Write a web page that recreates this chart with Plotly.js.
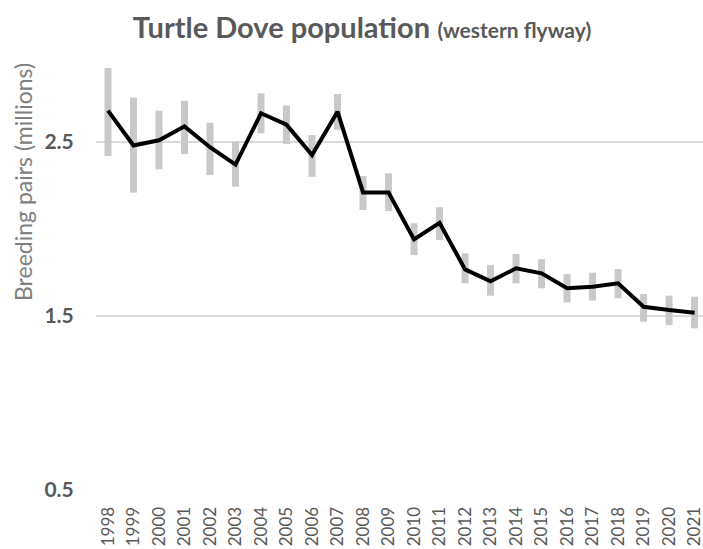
<!DOCTYPE html>
<html>
<head>
<meta charset="utf-8">
<script src="https://cdn.plot.ly/plotly-3.0.1.min.js"></script>
<style>html,body{margin:0;padding:0;background:#fff;}#chart{width:703px;height:549px;}</style>
</head>
<body>
<div id="chart"></div>
<script>
var years = ["1998","1999","2000","2001","2002","2003","2004","2005","2006","2007","2008","2009","2010","2011","2012","2013","2014","2015","2016","2017","2018","2019","2020","2021"];
var population = [2.68,2.48,2.51,2.59,2.47,2.37,2.665,2.60,2.425,2.674,2.21,2.21,1.94,2.036,1.768,1.70,1.774,1.745,1.659,1.668,1.688,1.553,1.534,1.519];
var upper = [2.925,2.755,2.68,2.737,2.611,2.502,2.78,2.71,2.54,2.776,2.305,2.32,2.033,2.125,1.86,1.793,1.856,1.826,1.741,1.749,1.77,1.626,1.617,1.611];
var lower = [2.42,2.209,2.343,2.431,2.31,2.243,2.55,2.489,2.30,2.57,2.109,2.103,1.85,1.937,1.688,1.617,1.688,1.659,1.578,1.589,1.602,1.467,1.448,1.429];

var plus = upper.map(function(u,i){return u - population[i];});
var minus = lower.map(function(l,i){return population[i] - l;});

var fontFam = "Lato, 'Open Sans', sans-serif";

var traces = [
  {
    x: years, y: population, type: 'scatter', mode: 'markers',
    marker: {size: 1, color: 'rgba(0,0,0,0)'},
    error_y: {type: 'data', symmetric: false, array: plus, arrayminus: minus,
              color: '#c9c9c9', thickness: 7, width: 0},
    hoverinfo: 'skip', showlegend: false
  },
  {
    x: years, y: population, type: 'scatter', mode: 'lines',
    line: {color: '#000000', width: 4},
    showlegend: false
  }
];

var layout = {
  width: 703, height: 549,
  margin: {l: 96, r: 0, t: 55, b: 59},
  paper_bgcolor: '#ffffff', plot_bgcolor: '#ffffff',
  font: {family: fontFam, color: '#595959'},
  title: {
    text: "<b>Turtle Dove population</b> <b><span style='font-size:21px'>(western flyway)</span></b>",
    font: {family: fontFam, size: 29, color: '#595959'},
    x: 362/703, xref: 'container', xanchor: 'center',
    y: 1 - 28/549, yref: 'container', yanchor: 'middle'
  },
  xaxis: {
    type: 'category',
    range: [-0.47, 23.33],
    tickangle: -90,
    tickfont: {family: fontFam, size: 17, color: '#595959'},
    ticks: 'outside', ticklen: 9, tickcolor: 'rgba(0,0,0,0)',
    showgrid: false, zeroline: false, showline: false
  },
  yaxis: {
    range: [0.5, 3.0],
    tick0: 0.5, dtick: 1,
    tickformat: '.1f',
    tickfont: {family: fontFam, size: 21, color: '#595959', weight: 'bold'},
    ticks: 'outside', ticklen: 17, tickcolor: 'rgba(0,0,0,0)',
    showgrid: true, gridcolor: '#d9d9d9', gridwidth: 1.5,
    zeroline: false, showline: false
  },
  annotations: [{
    text: 'Breeding pairs (millions)',
    xref: 'paper', yref: 'paper',
    x: 0, xshift: -73, xanchor: 'center',
    y: (490 - 182) / 435, yanchor: 'middle',
    textangle: -90, showarrow: false,
    font: {family: fontFam, size: 23, color: '#808080'}
  }]
};

Plotly.newPlot('chart', traces, layout, {displayModeBar: false, staticPlot: true});
</script>
</body>
</html>
